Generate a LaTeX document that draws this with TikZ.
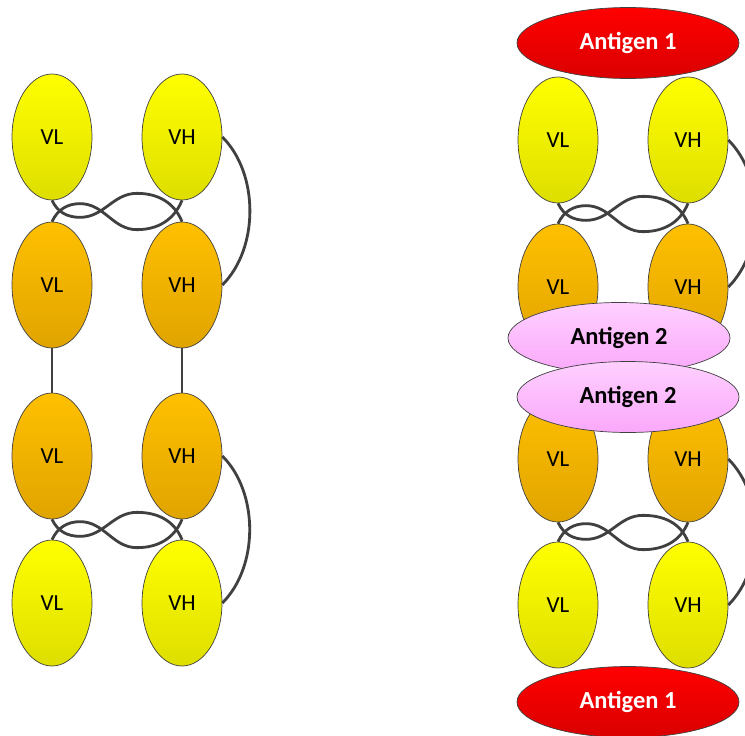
\documentclass[tikz,border=0pt]{standalone}
\usepackage{fontspec}
\setmainfont{Carlito}
\usetikzlibrary{shapes.geometric}

\definecolor{ink}{RGB}{64,64,64}
\definecolor{yeltop}{RGB}{255,255,0}
\definecolor{yelbot}{RGB}{222,222,0}
\definecolor{orgtop}{RGB}{255,192,0}
\definecolor{orgbot}{RGB}{224,164,0}
\definecolor{redtop}{RGB}{255,0,0}
\definecolor{redbot}{RGB}{218,0,0}
\definecolor{pnktop}{RGB}{255,208,255}
\definecolor{pnkbot}{RGB}{250,168,250}

% the two crossing linkers between a VL/VH pair and the pair below it
\newcommand{\linker}[4]{%
  \draw[link] (#1.south) to[out=-65,in=180] ++(28,-17)
    to[out=0,in=180] ++(57,24) to[out=0,in=112] (#4.north);
  \draw[link] (#2.north) to[out=65,in=180] ++(28,18)
    to[out=0,in=180] ++(57,-26) to[out=0,in=-112] (#3.south);
}

\begin{document}
\begin{tikzpicture}[x=1pt, y=1pt,
    dom/.style={ellipse, draw=ink, line width=0.7pt, inner sep=0pt,
      minimum width=80, minimum height=126,
      font=\fontsize{23}{27}\selectfont},
    light/.style={dom, top color=yeltop, bottom color=yelbot},
    heavy/.style={dom, top color=orgtop, bottom color=orgbot},
    antigen/.style={ellipse, draw=ink, line width=0.7pt, inner sep=0pt,
      minimum width=222, minimum height=71,
      font=\fontsize{24.5}{28}\selectfont\bfseries},
    agone/.style={antigen, top color=redtop, bottom color=redbot, text=white},
    agtwo/.style={antigen, top color=pnktop, bottom color=pnkbot, text=black},
    link/.style={ink, line width=2.8pt},
    arch/.style={link, out=-45, in=45, looseness=0.9}]
  \useasboundingbox (0,0) rectangle (745,-736);

  % left molecule
  \node[light] (lvl1) at (52,-137) {VL};
  \node[light] (lvh1) at (182,-137) {VH};
  \node[heavy] (lvl2) at (52,-285) {VL};
  \node[heavy] (lvh2) at (182,-285) {VH};
  \node[heavy] (lvl3) at (52,-456) {VL};
  \node[heavy] (lvh3) at (182,-456) {VH};
  \node[light] (lvl4) at (52,-603) {VL};
  \node[light] (lvh4) at (182,-603) {VH};

  \linker{lvl1}{lvl2}{lvh1}{lvh2}
  \linker{lvl3}{lvl4}{lvh3}{lvh4}
  \draw[arch] (lvh1.east) to (lvh2.east);
  \draw[arch] (lvh3.east) to (lvh4.east);
  \draw[link] (lvl2.south) -- (lvl3.north);
  \draw[link] (lvh2.south) -- (lvh3.north);

  % right molecule with both antigens bound
  \node[light] (rvl1) at (558,-140) {VL};
  \node[light] (rvh1) at (688,-140) {VH};
  \node[heavy] (rvl2) at (558,-287) {VL};
  \node[heavy] (rvh2) at (688,-287) {VH};
  \node[heavy] (rvl3) at (558,-459) {VL};
  \node[heavy] (rvh3) at (688,-459) {VH};
  \node[light] (rvl4) at (558,-605) {VL};
  \node[light] (rvh4) at (688,-605) {VH};

  \linker{rvl1}{rvl2}{rvh1}{rvh2}
  \linker{rvl3}{rvl4}{rvh3}{rvh4}
  \draw[arch] (rvh1.east) to (rvh2.east);
  \draw[arch] (rvh3.east) to (rvh4.east);

  \node[agone] (agtop) at (628,-43) {Antigen 1};
  \node[agone] (agbot) at (628,-702) {Antigen 1};
  \node[agtwo] (agmida) at (619,-338) {Antigen 2};
  \node[agtwo] (agmidb) at (628,-397) {Antigen 2};
\end{tikzpicture}
\end{document}
